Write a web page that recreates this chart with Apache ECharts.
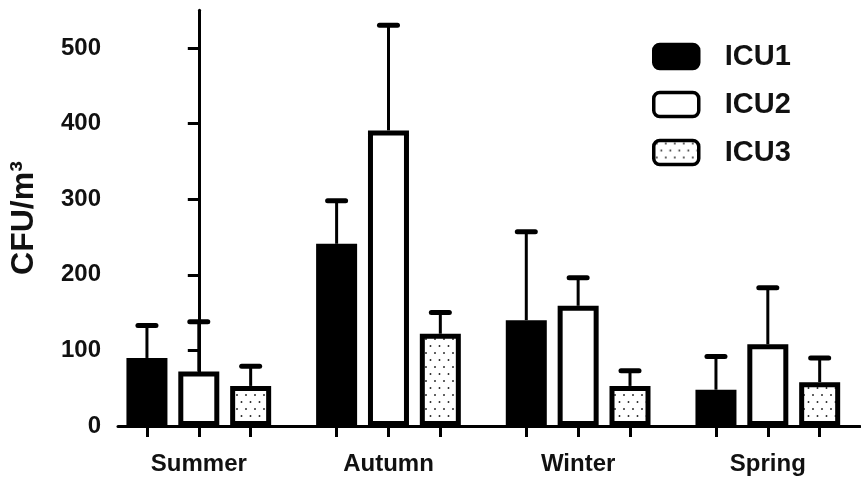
<!DOCTYPE html>
<html><head><meta charset="utf-8">
<script src="https://cdn.jsdelivr.net/npm/echarts@6/dist/echarts.min.js"></script>
<style>html,body{margin:0;padding:0;background:#fff}#c{width:861px;height:479px}</style>
</head><body><div id="c"></div><script>
// ---- data ----
const categories = ['Summer', 'Autumn', 'Winter', 'Spring'];
const seriesNames = ['ICU1', 'ICU2', 'ICU3'];
const icu1 = [90, 241, 140, 48];
const icu2 = [72, 391, 159, 108];
const icu3 = [53, 122, 53, 58];
const err1 = [43, 57, 117, 44];
const err2 = [66, 139, 37, 75];
const err3 = [26, 28, 20, 32];
const yTicks = [0, 100, 200, 300, 400, 500];
const yTitle = 'CFU/m³';

// ---- layout constants ----
const FONT = '"Liberation Sans", Arial, sans-serif';
const barStep = 0.2734;               // distance between bars in a group (in group units)
const offsets = [-barStep, 0, barStep];

function dotPattern() {
  const c = document.createElement('canvas');
  c.width = 18; c.height = 14;
  const g = c.getContext('2d');
  g.fillStyle = '#fff'; g.fillRect(0, 0, 18, 14);
  g.fillStyle = '#222';
  [[3, 3], [12, 3], [7.5, 10], [16.5, 10]].forEach(([x, y]) => {
    g.beginPath(); g.arc(x, y, 0.95, 0, Math.PI * 2); g.fill();
  });
  return c;
}
const fills = ['#000', '#fff', { image: dotPattern(), repeat: 'repeat' }];
const values = [icu1, icu2, icu3];
const errs = [err1, err2, err3];

const barSeries = seriesNames.map((name, s) => ({
  type: 'bar', name: name, z: 3,
  barWidth: 41, barGap: '-100%',
  itemStyle: { color: fills[s], borderColor: '#000', borderWidth: 5 },
  data: values[s].map((v, i) => [i + offsets[s], v])
}));

const errSeries = seriesNames.map((name, s) => ({
  type: 'custom', name: name + ' SD', z: 1, silent: true,
  encode: { x: 0, y: [1, 2] },
  data: values[s].map((v, i) => [i + offsets[s], v, v + errs[s][i]]),
  renderItem(params, api) {
    const x = api.value(0);
    const p0 = api.coord([x, api.value(1)]);
    const p1 = api.coord([x, api.value(2)]);
    return { type: 'group', children: [
      { type: 'line', shape: { x1: p0[0], y1: p0[1], x2: p1[0], y2: p1[1] }, style: { stroke: '#000', lineWidth: 3 } },
      { type: 'line', shape: { x1: p1[0] - 9, y1: p1[1], x2: p1[0] + 9, y2: p1[1] }, style: { stroke: '#000', lineWidth: 5, lineCap: 'round' } }
    ]};
  }
}));

const barCenters = [];
categories.forEach((c, i) => offsets.forEach(o => barCenters.push(i + o)));

const chart = echarts.init(document.getElementById('c'), null, { renderer: 'canvas' });
chart.setOption({
  animation: false,
  backgroundColor: '#fff',
  grid: { left: 116, right: 1, top: 10.2, bottom: 53, containLabel: false },
  legend: {
    orient: 'vertical', left: 647, top: 37,
    itemWidth: 45, itemHeight: 24, itemGap: 19,
    icon: 'roundRect',
    textStyle: { fontFamily: FONT, fontWeight: 'bold', fontSize: 29, color: '#111', lineHeight: 28, padding: [0, 0, 0, 21] },
    data: seriesNames.map((n, s) => ({ name: n, itemStyle: { color: fills[s], borderColor: '#000', borderWidth: 3.5 } }))
  },
  xAxis: {
    type: 'value', min: -0.426, max: 3.486,
    splitLine: { show: false },
    axisLine: { show: true, onZero: true, lineStyle: { color: '#000', width: 3 } },
    axisTick: { show: true, length: 11, lineStyle: { color: '#000', width: 3 }, customValues: barCenters },
    axisLabel: {
      customValues: categories.map((c, i) => i),
      formatter: v => categories[Math.round(v)] || '',
      margin: 26, fontFamily: FONT, fontWeight: 'bold', fontSize: 24, color: '#111'
    }
  },
  yAxis: {
    type: 'value', min: 0, max: 550,
    name: yTitle, nameLocation: 'middle', nameRotate: 90, nameGap: 78,
    nameTextStyle: { fontFamily: FONT, fontWeight: 'bold', fontSize: 32, color: '#111' },
    splitLine: { show: false },
    axisLine: { show: true, lineStyle: { color: '#000', width: 3 } },
    axisTick: { show: true, length: 11, lineStyle: { color: '#000', width: 3 }, customValues: yTicks },
    axisLabel: { customValues: yTicks, margin: 17, fontFamily: FONT, fontWeight: 'bold', fontSize: 24, color: '#111' }
  },
  series: [...errSeries, ...barSeries]
});
</script></body></html>
